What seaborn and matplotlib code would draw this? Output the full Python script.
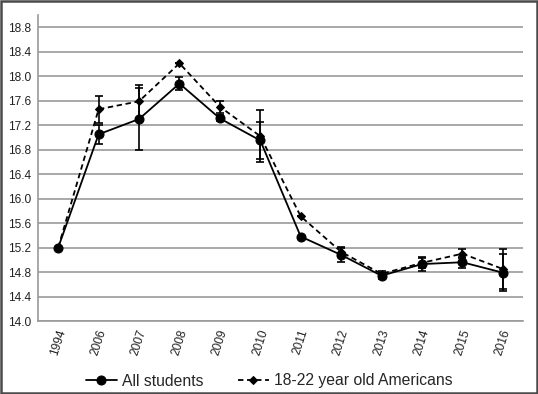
import pandas as pd
import matplotlib.pyplot as plt
import matplotlib.patches as patches
import seaborn as sns

#reading the values off the reference chart
years = ["1994", "2006", "2007", "2008", "2009", "2010", "2011", "2012", "2013", "2014", "2015", "2016"]
all_students = [15.20, 17.05, 17.30, 17.88, 17.31, 16.95, 15.38, 15.08, 14.74, 14.93, 14.96, 14.79]
all_err = [0.0, 0.16, 0.50, 0.10, 0.05, 0.30, 0.0, 0.12, 0.05, 0.12, 0.09, 0.30]
young = [15.20, 17.46, 17.59, 18.21, 17.50, 17.02, 15.71, 15.13, 14.77, 14.95, 15.10, 14.85]
young_err = [0.0, 0.22, 0.27, 0.0, 0.10, 0.42, 0.0, 0.08, 0.04, 0.08, 0.07, 0.33]
yticks = [14.0, 14.4, 14.8, 15.2, 15.6, 16.0, 16.4, 16.8, 17.2, 17.6, 18.0, 18.4, 18.8]

df = pd.DataFrame({"pos": range(len(years)), "year": years,
                   "All students": all_students, "18-22 year old Americans": young})

sns.set_style("white")
plt.rcParams["font.family"] = ["Liberation Sans", "DejaVu Sans"]

fig = plt.figure(figsize=(5.38, 3.94), dpi=100)
ax = fig.add_axes([38/538, 1-321/394, 485/538, 306/394])

#error bars first so the lines sit on top
ax.errorbar(df["pos"], df["18-22 year old Americans"], yerr=young_err, fmt="none",
            ecolor="black", elinewidth=1.2, capsize=3, capthick=1.2, zorder=2)
ax.errorbar(df["pos"], df["All students"], yerr=all_err, fmt="none",
            ecolor="black", elinewidth=1.2, capsize=3, capthick=1.2, zorder=2)

sns.lineplot(data=df, x="pos", y="All students", ax=ax, color="black", linewidth=1.3,
             marker="o", markersize=6.5, markeredgecolor="black", label="All students", zorder=3)
sns.lineplot(data=df, x="pos", y="18-22 year old Americans", ax=ax, color="black", linewidth=1.3,
             linestyle=(0, (3, 2)), marker="D", markersize=4.5, markeredgecolor="black",
             label="18-22 year old Americans", zorder=4)

ax.set_xlim(-0.5, len(years) - 0.5)
ax.set_ylim(14.0, 19.0)
ax.set_yticks(yticks)
ax.set_yticklabels([f"{v:.1f}" for v in yticks], fontsize=8.6, color="#222222")
ax.set_xticks(df["pos"])
ax.set_xticklabels(years, rotation=72, fontsize=8.6, color="#222222", ha="center")
ax.tick_params(axis="both", length=0, pad=5)
ax.set_xlabel("")
ax.set_ylabel("")

ax.yaxis.grid(True, color="#9a9a9a", linewidth=1.2)
ax.set_axisbelow(True)
for s in ["top", "right"]:
    ax.spines[s].set_visible(False)
for s in ["left", "bottom"]:
    ax.spines[s].set_color("#9a9a9a")
    ax.spines[s].set_linewidth(1.2)

ax.get_legend().remove()
handles, labels = ax.get_legend_handles_labels()
fig.legend(handles, labels, loc="center", bbox_to_anchor=(0.5, 13/394), ncol=2, frameon=False,
           fontsize=11.3, handlelength=2.0, handletextpad=0.3, columnspacing=2.2, borderpad=0)

#frame round the whole picture
fig.patches.append(patches.Rectangle((0.002, 0.003), 0.996, 0.994, transform=fig.transFigure,
                                     fill=False, edgecolor="#4a4a4a", linewidth=1.8))

fig.savefig("out.png", dpi=100)
